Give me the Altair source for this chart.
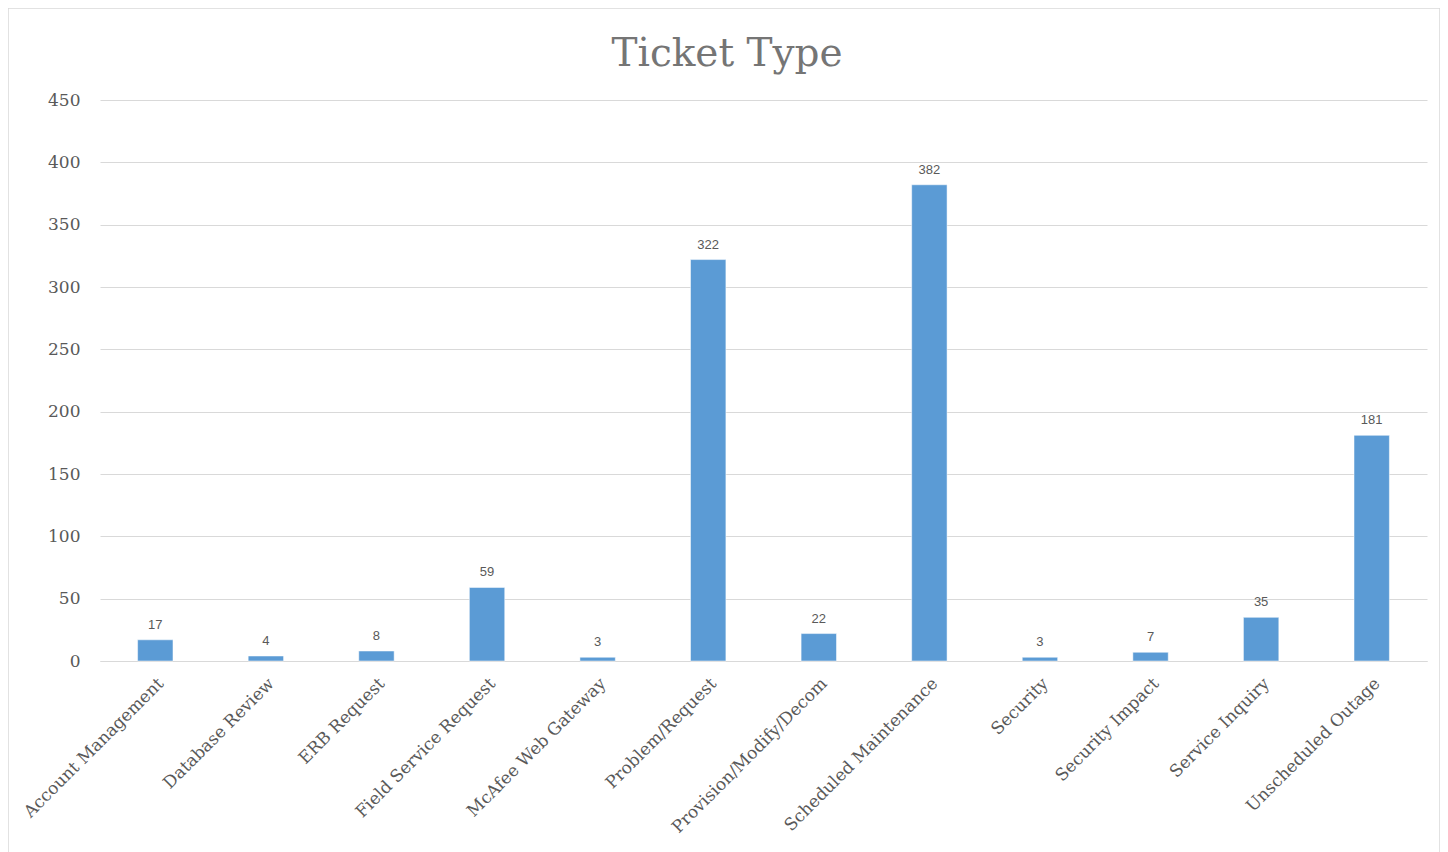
import altair as alt
import pandas as pd

categories = ["Account Management", "Database Review", "ERB Request", "Field Service Request",
              "McAfee Web Gateway", "Problem/Request", "Provision/Modify/Decom",
              "Scheduled Maintenance", "Security", "Security Impact", "Service Inquiry",
              "Unscheduled Outage"]
counts = [17, 4, 8, 59, 3, 322, 22, 382, 3, 7, 35, 181]
chart_title = "Ticket Type"

df = pd.DataFrame({"cat": categories, "n": counts})

W, H = 1327, 561

x = alt.X("cat:N", sort=categories, title=None,
          scale=alt.Scale(paddingInner=0.68, paddingOuter=0.34),
          axis=alt.Axis(labelAngle=-45, labelAlign="right", labelBaseline="top",
                        labelFont="DejaVu Serif", labelFontSize=17, labelColor="#595959",
                        ticks=False, domain=True, domainColor="#d9d9d9", labelPadding=14,
                        labelLimit=400, labelOverlap=False, grid=False))
y = alt.Y("n:Q", title=None,
          scale=alt.Scale(domain=[0, 450], nice=False),
          axis=alt.Axis(values=list(range(0, 451, 50)), ticks=False, domain=False,
                        labelFont="DejaVu Serif", labelFontSize=17, labelColor="#595959",
                        labelPadding=20, gridColor="#d9d9d9", gridWidth=1))

bars = alt.Chart(df).mark_bar(color="#5B9BD5", stroke="#ffffff", strokeWidth=0.5).encode(x=x, y=y)
labels = alt.Chart(df).mark_text(baseline="bottom", dy=-8, font="Liberation Sans",
                                 fontSize=13, color="#595959").encode(
    x=alt.X("cat:N", sort=categories), y="n:Q", text="n:Q")

border = alt.Chart(df.head(1)).mark_rect(fill=None, stroke="#d9d9d9", strokeWidth=1.5,
                                         clip=False).encode(
    x=alt.value(-92), x2=alt.value(1340), y=alt.value(-92), y2=alt.value(760))

title = alt.Chart(pd.DataFrame({"t": [chart_title]})).mark_text(
    font="DejaVu Serif", fontSize=39, color="#757575", align="center", baseline="middle"
).encode(x=alt.value(627), y=alt.value(-46), text="t:N")

chart = alt.layer(border, bars, labels, title).properties(
    width=W, height=H,
    background="#ffffff",
    autosize=alt.AutoSizeParams(type="none"),
    padding={"left": 92, "top": 92, "right": 13, "bottom": 200},
).configure_view(strokeWidth=0, stroke="transparent")

chart.save("out.html", embed_options={"renderer": "svg", "actions": False})
